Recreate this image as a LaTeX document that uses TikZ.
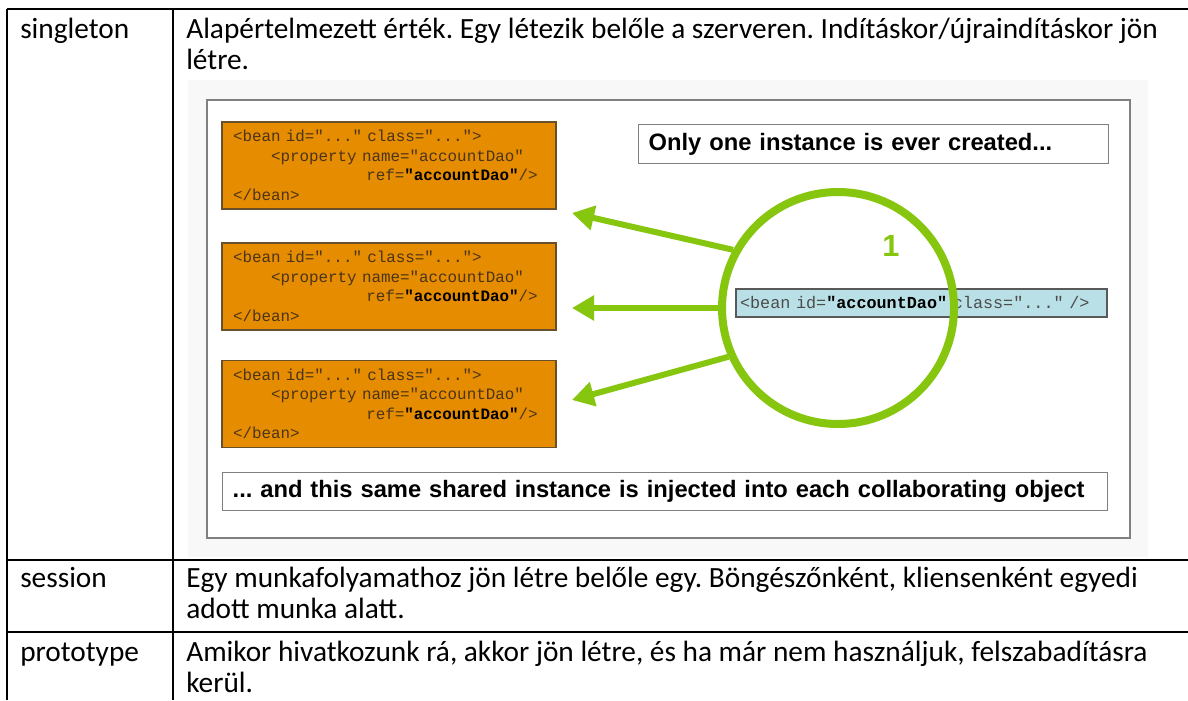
\documentclass[tikz,border=0pt]{standalone}
\usepackage{fontspec}
\setmainfont{Carlito}
\newfontfamily\codefont{Liberation Mono}[WordSpace={1,0,0}]
\newfontfamily\slidefont{Liberation Sans}
\usepackage{tikz}
\usetikzlibrary{arrows.meta}
\definecolor{beanorange}{RGB}{230,140,0}
\definecolor{beanborder}{RGB}{105,80,45}
\definecolor{codetext}{RGB}{75,52,25}
\definecolor{daoblue}{RGB}{185,224,230}
\definecolor{ringgreen}{RGB}{135,198,15}
\definecolor{framegray}{RGB}{128,128,128}
\definecolor{shotgray}{RGB}{248,248,248}
\DeclareRobustCommand{\codeat}[1]{\codefont\fontsize{#1}{14.6}\selectfont\spaceskip=0.6em\relax}
\newcommand{\beantext}{%
  <bean id="..." class="...">\\
  \hspace*{2.4em}<property name="accountDao"\\
  \hspace*{8.4em}ref=\textbf{\color{black}"accountDao"}/>\\
  </bean>}
\frenchspacing

\begin{document}
\begin{tikzpicture}[x=0.75pt,y=-0.75pt,
    cell/.style={anchor=base west,inner sep=0pt,font=\fontsize{22}{26}\selectfont},
    codebox/.style={draw=beanborder,fill=beanorange,line width=0.9pt,
      minimum width=250.5pt,minimum height=65.25pt,text width=234pt,align=left,
      inner xsep=8.25pt,inner ysep=0pt,text=codetext,font=\codeat{11.9}},
    daobox/.style={draw=black!65,fill=daoblue,line width=0.9pt,
      minimum width=278.25pt,minimum height=21pt,text width=272.25pt,align=left,
      inner xsep=3pt,inner ysep=0pt,text=black!70,font=\codeat{12.6}},
    notebox/.style={draw=framegray,fill=white,line width=1pt,anchor=north west,
      inner xsep=7.5pt,inner ysep=0pt,align=left,
      font=\slidefont\bfseries\fontsize{17.8}{20}\selectfont},
    inject/.style={ringgreen,line width=4.5pt,-{Triangle[length=16.5pt,width=18pt]}}]
  \useasboundingbox (0,0) rectangle (1188,700);

  % table
  \draw[line width=1.5pt] (7,9)--(1188,9);
  \draw[line width=1.5pt] (7,560)--(1188,560);
  \draw[line width=1.5pt] (7,632)--(1188,632);
  \draw[line width=1.5pt] (7,9)--(7,700);
  \draw[line width=1.5pt] (173,9)--(173,700);

  \node[cell] (single) at (20,38) {singleton};
  \node[cell] (singleA) at (186,38) {Alapértelmezett érték. Egy létezik belőle a szerveren. Indításkor/újraindításkor jön};
  \node[cell] (singleB) at (186,69) {létre.};
  \node[cell] (sess) at (20,587) {session};
  \node[cell] (sessA) at (186,587) {Egy munkafolyamathoz jön létre belőle egy. Böngészőnként, kliensenként egyedi};
  \node[cell] (sessB) at (186,618) {adott munka alatt.};
  \node[cell] (proto) at (20,661) {prototype};
  \node[cell] (protoA) at (186,661) {Amikor hivatkozunk rá, akkor jön létre, és ha már nem használjuk, felszabadításra};
  \node[cell] (protoB) at (186,692) {kerül.};

  % the slide
  \fill[shotgray] (188,80) rectangle (1148,557);
  \draw[framegray,line width=1.5pt,fill=white] (207,100) rectangle (1130,538);

  \node[codebox] (bean1) at (389,165.5) {\beantext};
  \node[codebox] (bean2) at (389,286.5) {\beantext};
  \node[codebox] (bean3) at (389,404) {\beantext};

  \node[notebox,minimum width=352.5pt,minimum height=29.25pt,text width=337.5pt] (only) at (638,124) {Only one instance is ever created...};
  \node[notebox,minimum width=663.75pt,minimum height=28.5pt,text width=648.75pt] (shared) at (222,472) {... and this same shared instance is injected into each collaborating object};

  \node[daobox] (dao) at (921.5,303) {<bean id=\textbf{\color{black}"accountDao"} class="..." />};

  \node[draw=ringgreen,line width=6pt,circle,minimum size=174pt,inner sep=0pt] (ring) at (838,308) {};
  \node[text=ringgreen,font=\slidefont\bfseries\fontsize{23}{23}\selectfont] (one) at (891,246) {1};

  \coordinate (tip1) at (572,213);
  \coordinate (tip2) at (572,308);
  \coordinate (tip3) at (572,400);
  \draw[inject] (ring.151) -- (tip1);
  \draw[inject] (ring.west) -- (tip2);
  \draw[inject] (ring.204) -- (tip3);
\end{tikzpicture}
\end{document}
